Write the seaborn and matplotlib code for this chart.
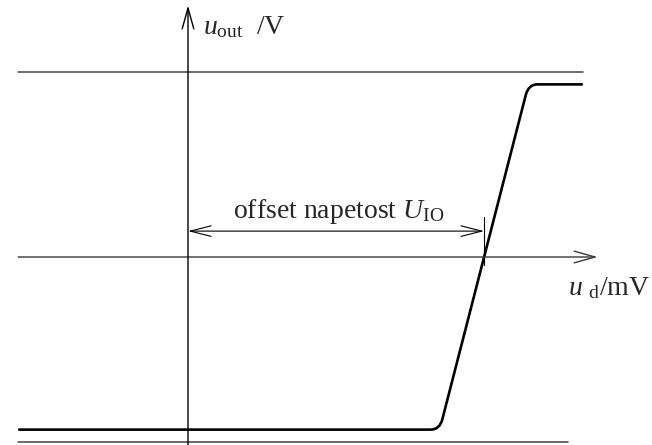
import numpy as np
import pandas as pd
import matplotlib
matplotlib.use("Agg")
import matplotlib.pyplot as plt
from matplotlib.path import Path
from matplotlib.patches import PathPatch
import seaborn as sns

# Op-amp transfer characteristic with input offset voltage
offset_mv = 3.0          # U_IO, where the output crosses zero
sat_v = 14.0             # output saturation level
rail_v = 15.0            # supply rails
ud_knees = [2.55, 3.45]  # input voltages where the output saturates
ud_start, ud_end = -1.72, 4.0
rail_low_end = 3.85

curve_ud = [ud_start, ud_knees[0], ud_knees[1], ud_end]
curve_uout = [-sat_v, -sat_v, sat_v, sat_v]

sns.set_theme(style="white")
plt.rcParams["font.family"] = ["Liberation Serif", "DejaVu Serif"]
plt.rcParams["mathtext.fontset"] = "custom"
plt.rcParams["mathtext.rm"] = "Liberation Serif"
plt.rcParams["mathtext.it"] = "Liberation Serif:italic"

fig = plt.figure(figsize=(6.52, 4.45), dpi=100)
ax = fig.add_axes([0, 0, 1, 1])
KX, KY = 98.7, 12.33            # pixels per mV / per V
ax.set_xlim(-188 / KX, (652 - 188) / KX)
ax.set_ylim((257 - 445) / KY, 257 / KY)
ax.axis("off")

# supply rails
rails = pd.DataFrame({
    "ud": [ud_start, ud_end, ud_start, rail_low_end],
    "uout": [rail_v, rail_v, -rail_v, -rail_v],
    "rail": ["top", "top", "bottom", "bottom"],
})
sns.lineplot(data=rails, x="ud", y="uout", units="rail", estimator=None,
             color="#444444", lw=1.1, ax=ax, legend=False)

# axes with open arrowheads
arrow = dict(arrowstyle="->,head_length=1.5,head_width=0.42", mutation_scale=10,
             shrinkA=0, shrinkB=0)
ax.annotate("", xy=(4.15, 0), xytext=(ud_start, 0),
            arrowprops=dict(arrow, color="#3a3a3a", lw=1.0))
ax.annotate("", xy=(0, 20.4), xytext=(0, -15.4),
            arrowprops=dict(arrow, color="black", lw=1.0))

# transfer curve with rounded knees
r_flat = 0.09
t = 0.03
k0 = np.array([curve_ud[1], curve_uout[1]])
k1 = np.array([curve_ud[2], curve_uout[2]])
d = k1 - k0
verts = [
    (curve_ud[0], curve_uout[0]),
    (k0[0] - r_flat, k0[1]), tuple(k0), tuple(k0 + t * d),
    tuple(k1 - t * d), tuple(k1), (k1[0] + r_flat, k1[1]),
    (curve_ud[3], curve_uout[3]),
]
codes = [Path.MOVETO, Path.LINETO, Path.CURVE3, Path.CURVE3,
         Path.LINETO, Path.CURVE3, Path.CURVE3, Path.LINETO]
ax.add_patch(PathPatch(Path(verts, codes), fill=False, edgecolor="black",
                       lw=1.9, capstyle="butt", joinstyle="round"))

# offset dimension
dim_y = 2.1
ax.annotate("", xy=(0, dim_y), xytext=(offset_mv, dim_y),
            arrowprops=dict(arrowstyle="<->,head_length=1.5,head_width=0.38",
                            mutation_scale=10, shrinkA=0, shrinkB=0,
                            color="black", lw=0.8))
ax.plot([offset_mv, offset_mv], [3.25, -0.65], color="black", lw=0.8)
ax.text(offset_mv / 2 + 0.03, 3.16, r"offset napetost $U_{\mathrm{IO}}$",
        ha="center", va="baseline", fontsize=20)

# axis labels
ax.text(0.15, 18.1, r"$u_{\mathrm{out}}$  /V", ha="left", va="baseline", fontsize=20)
ax.text(3.85, -3.05, r"$u\ _{\mathrm{d}}$/mV", ha="left", va="baseline", fontsize=20)

fig.savefig("out.png", dpi=100)
